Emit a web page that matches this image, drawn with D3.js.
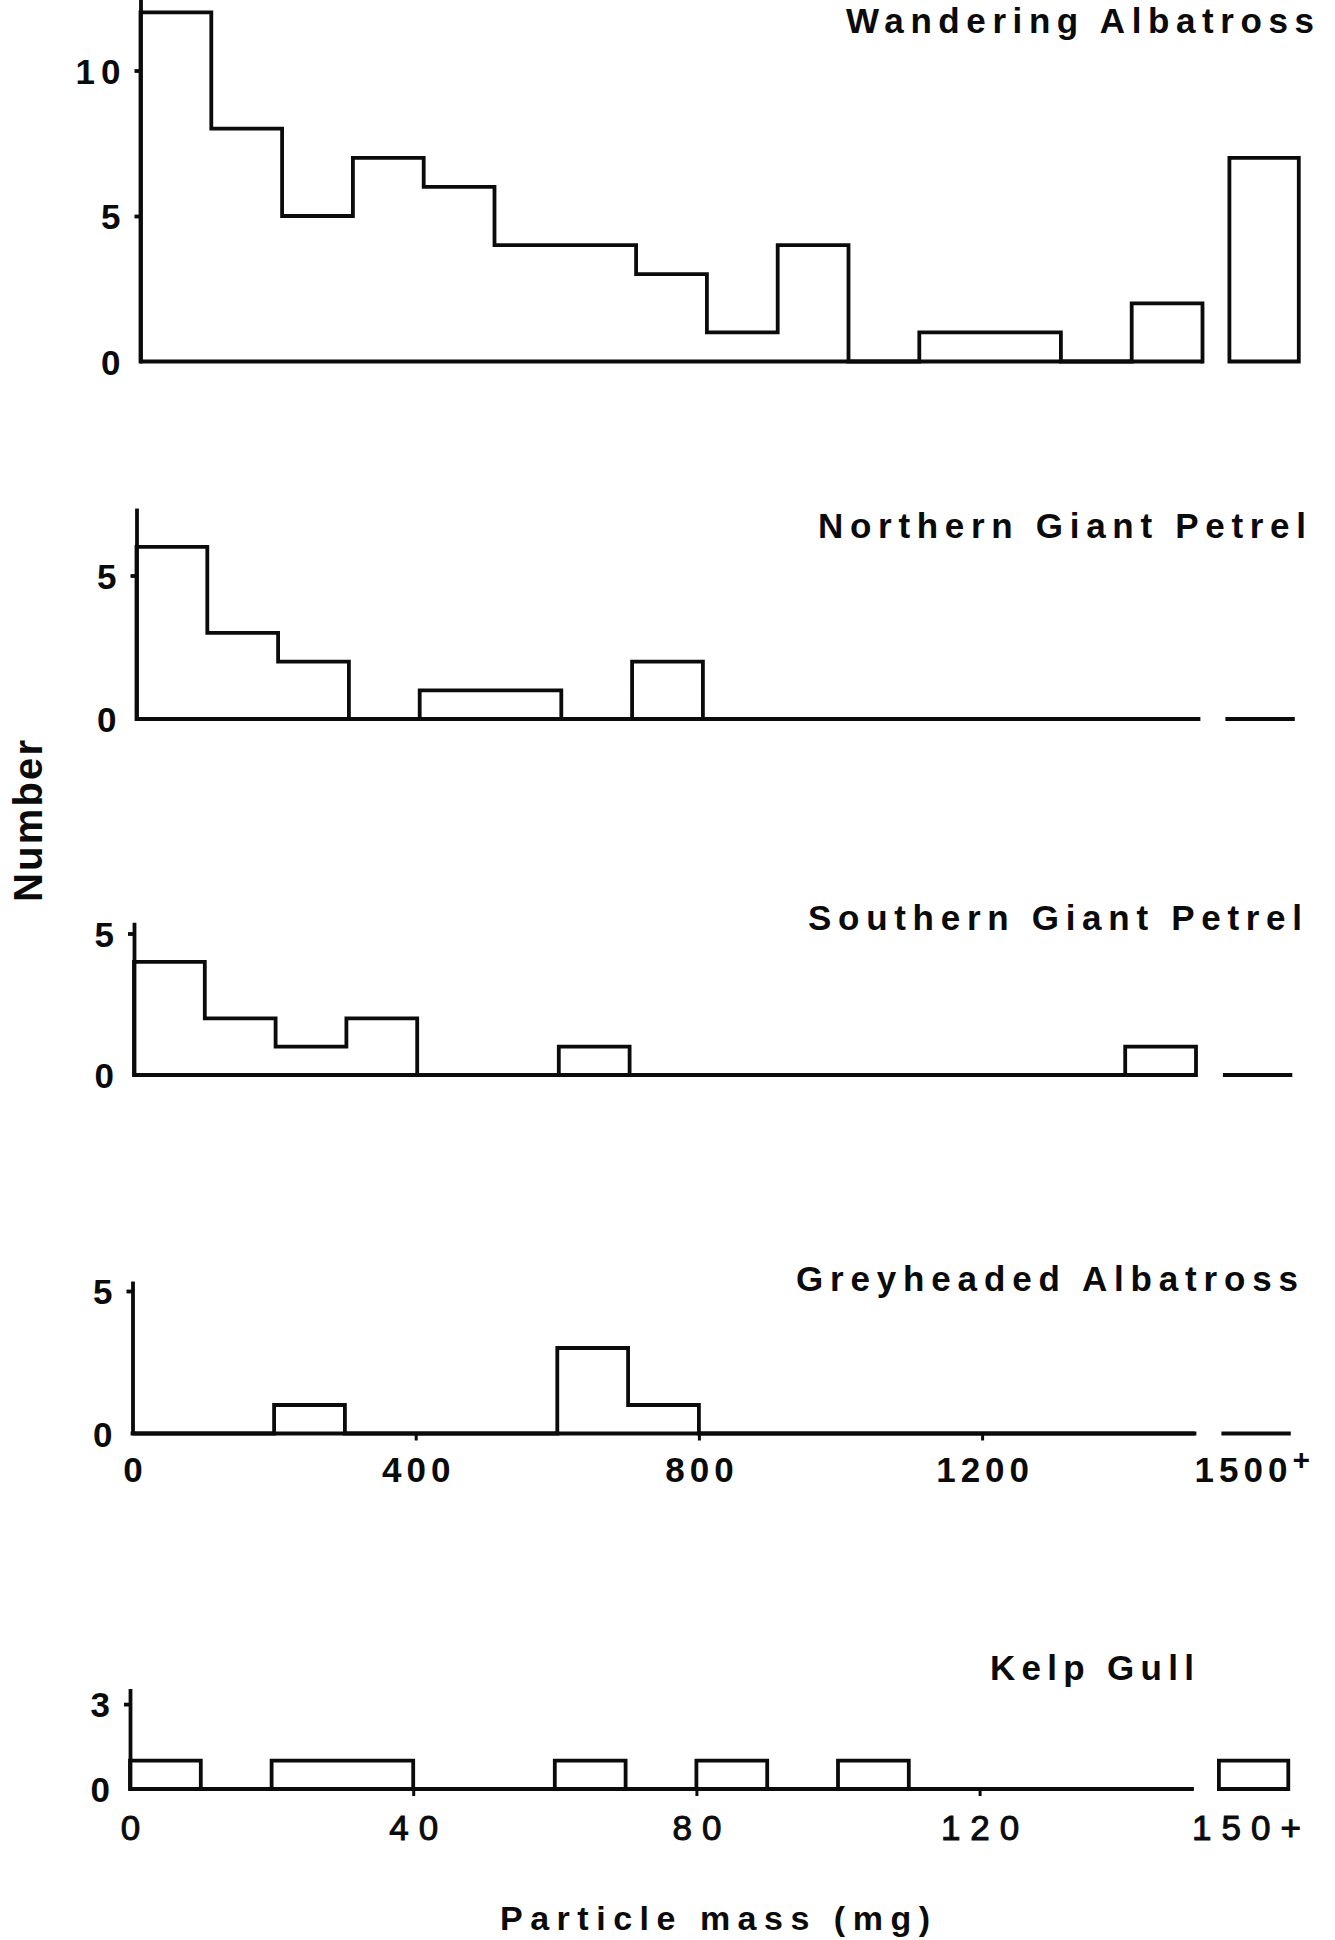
<!DOCTYPE html>
<html>
<head>
<meta charset="utf-8">
<script src="https://cdn.jsdelivr.net/npm/d3@7"></script>
<style>
  body { margin: 0; background: #fff; }
  svg { display: block; }
  text { font-family: "Liberation Sans", Arial, Helvetica, sans-serif; fill: #0b0b0b; }
</style>
</head>
<body>
<svg id="chart" width="1335" height="1940"></svg>
<script>
// ---- data: number of particles per mass class ----
const speciesNames = ["Wandering Albatross", "Northern Giant Petrel", "Southern Giant Petrel",
                      "Greyheaded Albatross", "Kelp Gull"];

// lower bounds of the mass classes (mg)
const binStartsLarge = [0, 100, 200, 300, 400, 500, 600, 700, 800, 900, 1000, 1100, 1200, 1300, 1400];
const binStartsGull  = [0, 10, 20, 30, 40, 50, 60, 70, 80, 90, 100, 110, 120, 130, 140];

const wanderingAlbatross   = [12, 8, 5, 7, 6, 4, 4, 3, 1, 4, 0, 1, 1, 0, 2];
const northernGiantPetrel  = [6, 3, 2, 0, 1, 1, 0, 2, 0, 0, 0, 0, 0, 0, 0];
const southernGiantPetrel  = [4, 2, 1, 2, 0, 0, 1, 0, 0, 0, 0, 0, 0, 0, 1];
const greyheadedAlbatross  = [0, 0, 1, 0, 0, 0, 3, 1, 0, 0, 0, 0, 0, 0, 0];
const kelpGull             = [1, 0, 1, 1, 0, 0, 1, 0, 1, 0, 1, 0, 0, 0, 0];

// open-ended top class (1500+ mg, 150+ mg for the gull)
const plusClassCounts = [7, 0, 0, 0, 1];

// axis ticks
const yTicks = [[0, 5, 10], [0, 5], [0, 5], [0, 5], [0, 3]];
const xTicksLarge = [0, 400, 800, 1200];
const xTicksGull  = [0, 40, 80, 120];
const plusLabelLarge = "1500";
const plusLabelGull  = "150+";

// ---- layout ----
const svg = d3.select("#chart");
const INK = "#0b0b0b";
const LW = 3.8;

const panels = [
  { name: speciesNames[0], counts: wanderingAlbatross,  plus: plusClassCounts[0], bins: binStartsLarge, width: 100,
    ticks: yTicks[0], left: 140.5, base: 361.5, unit: 29.1, yMax: 12.6,
    title: { x: 846, w: 468, y: 33 } },
  { name: speciesNames[1], counts: northernGiantPetrel, plus: plusClassCounts[1], bins: binStartsLarge, width: 100,
    ticks: yTicks[1], left: 136.5, base: 719, unit: 28.7, yMax: 7.35,
    title: { x: 818, w: 488, y: 538 } },
  { name: speciesNames[2], counts: southernGiantPetrel, plus: plusClassCounts[2], bins: binStartsLarge, width: 100,
    ticks: yTicks[2], left: 134, base: 1075, unit: 28.3, yMax: 5.4,
    title: { x: 808, w: 494, y: 930 } },
  { name: speciesNames[3], counts: greyheadedAlbatross, plus: plusClassCounts[3], bins: binStartsLarge, width: 100,
    ticks: yTicks[3], left: 132.5, base: 1433.5, unit: 28.5, yMax: 5.35,
    title: { x: 796, w: 502, y: 1291 },
    xTicks: xTicksLarge, plusLabel: plusLabelLarge, raisedPlus: true, labelSpacing: 5, labelBold: true },
  { name: speciesNames[4], counts: kelpGull,            plus: plusClassCounts[4], bins: binStartsGull, width: 10,
    ticks: yTicks[4], left: 130, base: 1789, unit: 28.3, yMax: 3.55,
    title: { x: 990, w: 204, y: 1680 },
    xTicks: xTicksGull, plusLabel: plusLabelGull, raisedPlus: false, labelSpacing: 10, labelBold: false }
];

const SPAN = 1062;          // pixel length of the 15 regular classes
const PLUS_GAP = 0.38;      // gap before the open-ended class, in class widths
const PLUS_W = 0.98;        // width of the open-ended class, in class widths

panels.forEach(p => {
  const nBins = p.bins.length;
  const xMaxMass = p.bins[nBins - 1] + p.width;
  const x = d3.scaleLinear().domain([0, xMaxMass]).range([p.left, p.left + SPAN]);
  const y = d3.scaleLinear().domain([0, p.yMax]).range([p.base, p.base - p.yMax * p.unit]);

  const g = svg.append("g");

  // baseline under the regular classes
  g.append("path")
    .attr("d", d3.line()([[x(0), y(0)], [x(xMaxMass), y(0)]]))
    .attr("fill", "none").attr("stroke", INK).attr("stroke-width", LW);

  // histogram outline: step line over the regular classes
  const pts = [[x(0), y(0)]];
  p.counts.forEach((c, i) => {
    const lo = p.bins[i], hi = lo + p.width;
    pts.push([x(lo), y(c)], [x(hi), y(c)]);
  });
  pts.push([x(xMaxMass), y(0)]);
  g.append("path")
    .attr("d", d3.line()(pts))
    .attr("fill", "none")
    .attr("stroke", INK)
    .attr("stroke-width", LW)
    .attr("stroke-linejoin", "miter")
    .attr("stroke-linecap", "square");

  // open-ended class, drawn apart from the rest
  const p0 = xMaxMass + PLUS_GAP * p.width;
  const p1 = p0 + PLUS_W * p.width;
  if (p.plus > 0) {
    g.append("path")
      .attr("d", d3.line()([[x(p0), y(0)], [x(p0), y(p.plus)], [x(p1), y(p.plus)], [x(p1), y(0)]]) + "Z")
      .attr("fill", "none").attr("stroke", INK).attr("stroke-width", LW);
  } else {
    g.append("path")
      .attr("d", d3.line()([[x(p0), y(0)], [x(p1), y(0)]]))
      .attr("fill", "none").attr("stroke", INK).attr("stroke-width", LW);
  }

  // y axis
  const yAxis = g.append("g")
    .attr("transform", `translate(${x(0)},0)`)
    .call(d3.axisLeft(y).tickValues(p.ticks).tickSize(6).tickSizeOuter(0).tickPadding(14).tickFormat(d3.format("d")));
  yAxis.select(".domain").attr("stroke", INK).attr("stroke-width", LW);
  yAxis.selectAll(".tick line").attr("stroke", INK).attr("stroke-width", LW)
    .filter(d => d === 0).remove();
  yAxis.selectAll(".tick text")
    .attr("font-size", 35).attr("font-weight", "bold").attr("letter-spacing", 6)
    .attr("dx", 6).attr("dy", "0.36em")
    .style("font-family", "'Liberation Sans', Arial, sans-serif");

  // x axis (lower two panels)
  if (p.xTicks) {
    const xAxis = g.append("g")
      .attr("transform", `translate(0,${y(0)})`)
      .call(d3.axisBottom(x).tickValues(p.xTicks).tickSize(7).tickSizeOuter(0)
        .tickPadding(p.labelBold ? 16.5 : 19).tickFormat(d3.format("d")));
    xAxis.select(".domain").remove();
    xAxis.selectAll(".tick line").attr("stroke", INK).attr("stroke-width", 3)
      .filter(d => d === 0).remove();
    xAxis.selectAll(".tick text")
      .attr("font-size", 35).attr("font-weight", p.labelBold ? "bold" : "normal")
      .attr("letter-spacing", p.labelSpacing).attr("dx", p.labelSpacing / 2)
      .style("font-family", "'Liberation Sans', Arial, sans-serif")
      .attr("stroke", p.labelBold ? "none" : INK).attr("stroke-width", p.labelBold ? 0 : 1);

    const plusText = g.append("text")
      .attr("x", x(xMaxMass))
      .attr("y", y(0) + (p.labelBold ? 48.5 : 51))
      .attr("font-size", 35)
      .attr("font-weight", p.labelBold ? "bold" : "normal")
      .attr("letter-spacing", p.labelSpacing)
      .attr("stroke", p.labelBold ? "none" : INK).attr("stroke-width", p.labelBold ? 0 : 1)
      .text(p.plusLabel);
    if (p.raisedPlus) {
      plusText.append("tspan").attr("dy", -12).attr("font-size", 30).text("+");
    }
  }

  // species name
  g.append("text")
    .attr("x", p.title.x).attr("y", p.title.y)
    .attr("textLength", p.title.w).attr("lengthAdjust", "spacing")
    .attr("font-size", 35).attr("font-weight", "bold")
    .text(p.name);
});

// axis titles
svg.append("text")
  .attr("transform", "translate(42,902) rotate(-90)")
  .attr("textLength", 162).attr("lengthAdjust", "spacing")
  .attr("font-size", 40).attr("font-weight", "bold")
  .text("Number");

svg.append("text")
  .attr("x", 500).attr("y", 1930)
  .attr("textLength", 430).attr("lengthAdjust", "spacing")
  .attr("font-size", 34).attr("font-weight", "bold")
  .text("Particle mass (mg)");
</script>
</body>
</html>
